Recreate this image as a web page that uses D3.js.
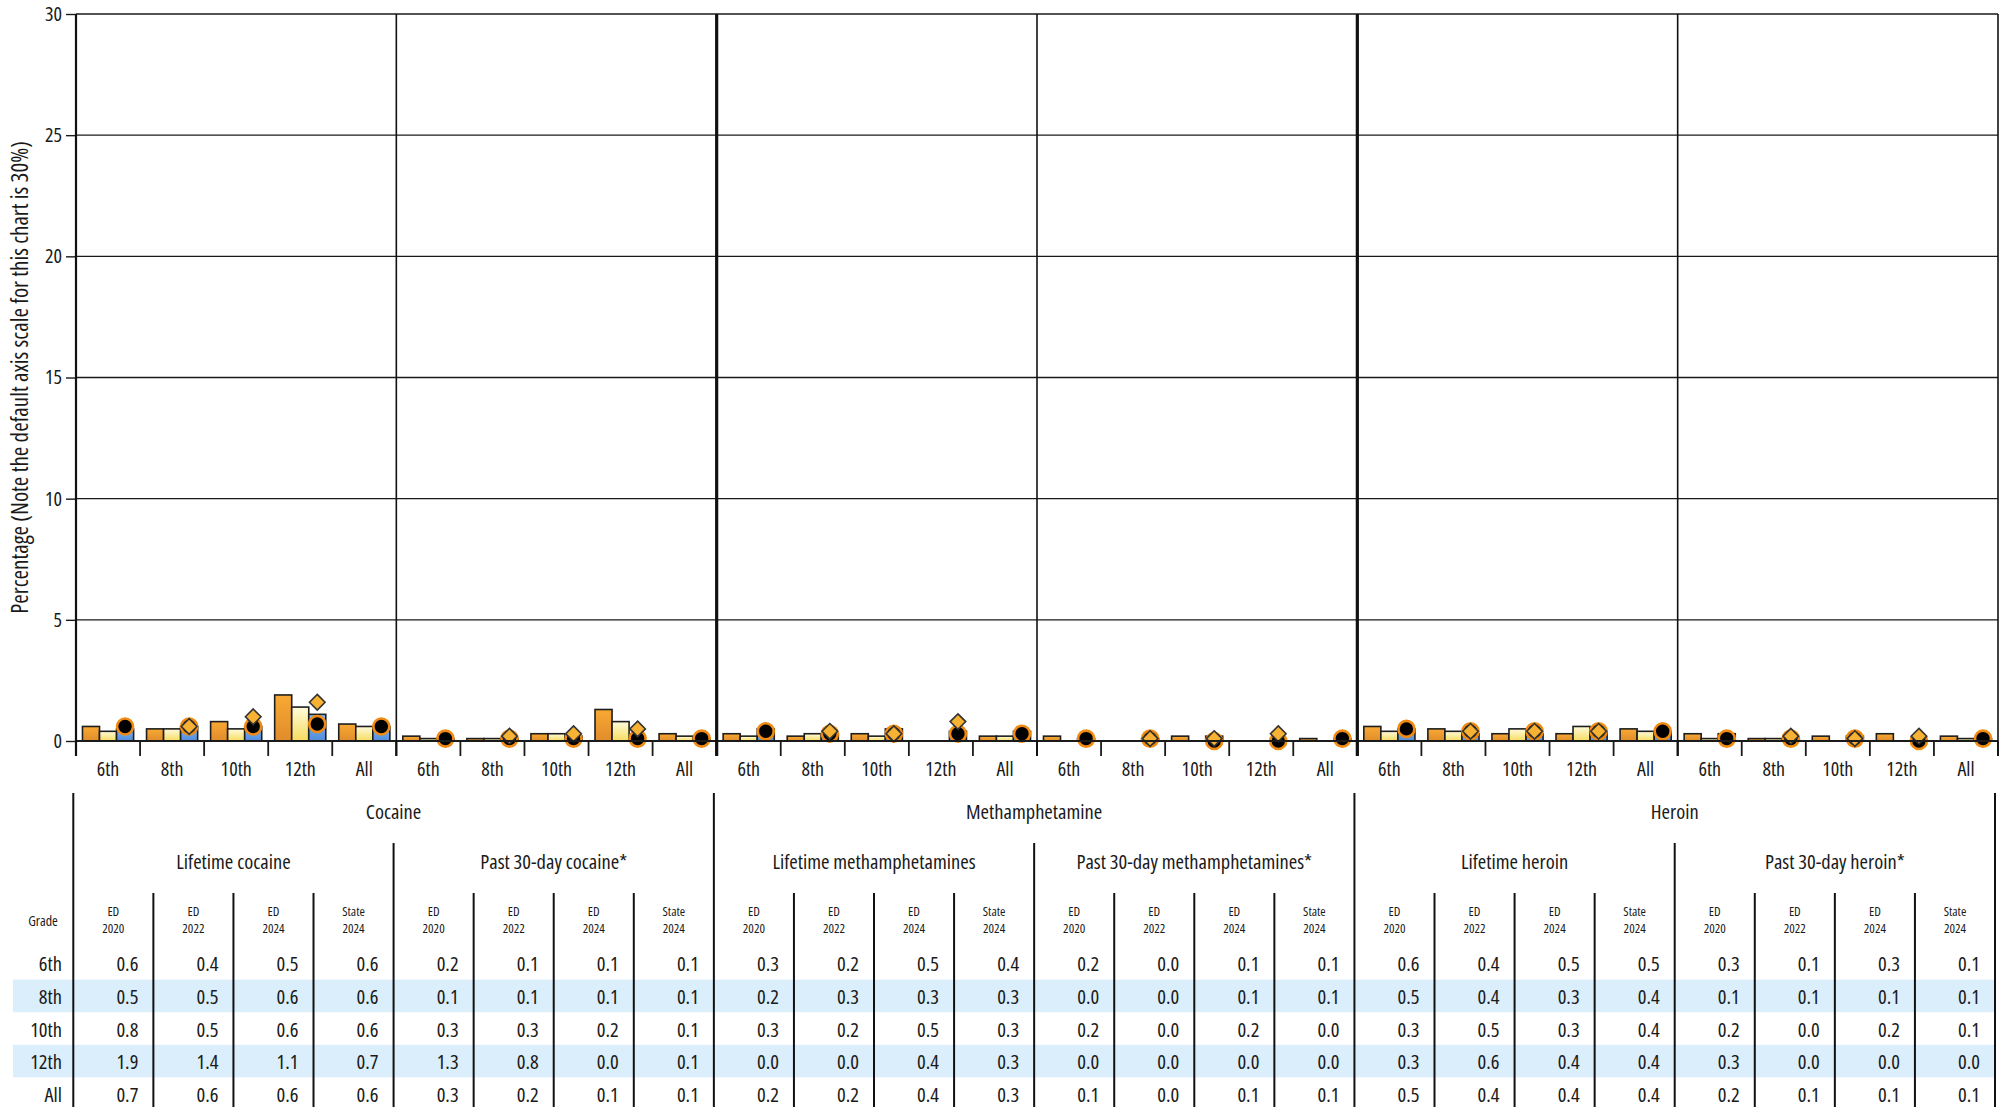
<!DOCTYPE html>
<html><head><meta charset="utf-8">
<script src="https://cdn.jsdelivr.net/npm/d3@7"></script>
<style>
body{margin:0;background:#fff;}
svg text{font-family:"Open Sans",sans-serif;font-stretch:75%;fill:#1a1a1a;}
</style></head><body>
<svg id="c" width="1999" height="1107"></svg>
<script>
// ---------------- DATA ----------------
const grades = ["6th","8th","10th","12th","All"];
const groupNames = ["Cocaine","Methamphetamine","Heroin"];
const panelNames = ["Lifetime cocaine","Past 30-day cocaine*","Lifetime methamphetamines","Past 30-day methamphetamines*","Lifetime heroin","Past 30-day heroin*"];
const seriesNames = ["ED 2020","ED 2022","ED 2024","State 2024"];
const yTicks = [0,5,10,15,20,25,30];

// values per grade: [ED 2020, ED 2022, ED 2024, State 2024]
const lifetimeCocaine = [[0.6,0.4,0.5,0.6],[0.5,0.5,0.6,0.6],[0.8,0.5,0.6,0.6],[1.9,1.4,1.1,0.7],[0.7,0.6,0.6,0.6]];
const past30Cocaine   = [[0.2,0.1,0.1,0.1],[0.1,0.1,0.1,0.1],[0.3,0.3,0.2,0.1],[1.3,0.8,0.0,0.1],[0.3,0.2,0.1,0.1]];
const lifetimeMeth    = [[0.3,0.2,0.5,0.4],[0.2,0.3,0.3,0.3],[0.3,0.2,0.5,0.3],[0.0,0.0,0.4,0.3],[0.2,0.2,0.4,0.3]];
const past30Meth      = [[0.2,0.0,0.1,0.1],[0.0,0.0,0.1,0.1],[0.2,0.0,0.2,0.0],[0.0,0.0,0.0,0.0],[0.1,0.0,0.1,0.1]];
const lifetimeHeroin  = [[0.6,0.4,0.5,0.5],[0.5,0.4,0.3,0.4],[0.3,0.5,0.3,0.4],[0.3,0.6,0.4,0.4],[0.5,0.4,0.4,0.4]];
const past30Heroin    = [[0.3,0.1,0.3,0.1],[0.1,0.1,0.1,0.1],[0.2,0.0,0.2,0.1],[0.3,0.0,0.0,0.0],[0.2,0.1,0.1,0.1]];

// diamond markers (8th, 10th, 12th comparison values)
const lifetimeCocaineDiamond = [null,0.6,1.0,1.6,null];
const past30CocaineDiamond   = [null,0.2,0.3,0.5,null];
const lifetimeMethDiamond    = [null,0.4,0.3,0.8,null];
const past30MethDiamond      = [null,0.1,0.1,0.3,null];
const lifetimeHeroinDiamond  = [null,0.4,0.4,0.4,null];
const past30HeroinDiamond    = [null,0.2,0.1,0.2,null];

const panelValues = [lifetimeCocaine,past30Cocaine,lifetimeMeth,past30Meth,lifetimeHeroin,past30Heroin];
const panelDiamonds = [lifetimeCocaineDiamond,past30CocaineDiamond,lifetimeMethDiamond,past30MethDiamond,lifetimeHeroinDiamond,past30HeroinDiamond];

// ---------------- DRAW ----------------
const svg = d3.select("#c");
const defs = svg.append("defs");
function grad(id, c1, c2){
  const g = defs.append("linearGradient").attr("id",id).attr("x1",0).attr("y1",0).attr("x2",0).attr("y2",1);
  g.append("stop").attr("offset","0%").attr("stop-color",c1);
  g.append("stop").attr("offset","100%").attr("stop-color",c2);
}
grad("gOrange","#f8a933","#e08c2c");
grad("gYellow","#fffbdc","#f6dc5e");
grad("gBlue","#86b6ee","#4f8ddd");
const fills = ["url(#gOrange)","url(#gYellow)","url(#gBlue)"];

const X0 = 76, X1 = 1998, YTOP = 14, YBASE = 741;
const pw = (X1 - X0) / 6;
const y = d3.scaleLinear().domain([0,30]).range([YBASE, YTOP]);

// gridlines
svg.append("g").selectAll("line").data(yTicks.filter(t=>t>0)).join("line")
  .attr("x1",X0).attr("x2",X1).attr("y1",d=>y(d)).attr("y2",d=>y(d))
  .attr("stroke","#1a1a1a").attr("stroke-width",1.4);

// y axis
const yAxis = svg.append("g").attr("transform",`translate(${X0},0)`)
  .call(d3.axisLeft(y).tickValues(yTicks).tickSize(10).tickPadding(4));
yAxis.select(".domain").remove();
yAxis.selectAll(".tick line").attr("stroke","#1a1a1a").attr("stroke-width",1.4);
yAxis.selectAll(".tick text").style("font-size","20px").attr("fill","#1a1a1a");

svg.append("text")
  .attr("transform",`translate(22,${(YTOP+YBASE)/2}) rotate(-90)`)
  .attr("text-anchor","middle").attr("dominant-baseline","middle")
  .style("font-size","23px")
  .text("Percentage (Note the default axis scale for this chart is 30%)");

// panels
panelValues.forEach((vals,p)=>{
  const left = X0 + p*pw, right = left + pw;
  const xb = d3.scaleBand().domain(grades).range([left,right]);
  const xi = d3.scaleBand().domain(seriesNames.slice(0,3)).range([0,xb.bandwidth()]).paddingOuter(0.38);
  const g = svg.append("g");
  grades.forEach((gr,gi)=>{
    const gg = g.append("g").attr("transform",`translate(${xb(gr)},0)`);
    gg.selectAll("rect").data(vals[gi].slice(0,3)).join("rect")
      .attr("x",(d,i)=>xi(seriesNames[i])).attr("width",xi.bandwidth())
      .attr("y",d=>y(d)).attr("height",d=>y(0)-y(d))
      .attr("fill",(d,i)=>fills[i]).attr("stroke","#1e1e1e").attr("stroke-width",1.6);
  });
  // circles (State 2024)
  g.append("g").selectAll("circle").data(grades).join("circle")
    .attr("cx",(d)=>xb(d)+xi("ED 2024")+xi.bandwidth()/2)
    .attr("cy",(d,gi)=>y(vals[gi][3]))
    .attr("r",8).attr("fill","#000").attr("stroke","#f08a10").attr("stroke-width",2.6);
  // diamonds
  const dd = panelDiamonds[p].map((v,gi)=>({v,gr:grades[gi]})).filter(d=>d.v!==null);
  g.append("g").selectAll("path").data(dd).join("path")
    .attr("transform",d=>`translate(${xb(d.gr)+xi("ED 2024")+xi.bandwidth()/2},${y(d.v)})`)
    .attr("d","M0,-7.8L7.8,0L0,7.8L-7.8,0Z")
    .attr("fill","#f7b233").attr("stroke","#333").attr("stroke-width",1.6);
  // x axis labels
  const xa = g.append("g").attr("transform",`translate(0,${YBASE})`)
    .call(d3.axisBottom(xb).tickSize(0).tickPadding(21));
  xa.select(".domain").remove();
  xa.selectAll(".tick text").style("font-size","20px").attr("fill","#1a1a1a");
  // boundary ticks
  const bounds = grades.map(d=>xb(d)).concat([right]);
  g.append("g").selectAll("line").data(bounds).join("line")
    .attr("x1",d=>d).attr("x2",d=>d).attr("y1",YBASE).attr("y2",YBASE+15)
    .attr("stroke","#1a1a1a").attr("stroke-width",1.8);
});

// baseline
svg.append("line").attr("x1",X0).attr("x2",X1).attr("y1",YBASE).attr("y2",YBASE)
  .attr("stroke","#1a1a1a").attr("stroke-width",2.2);
// vertical separators
d3.range(0,7).forEach(p=>{
  const xx = X0 + p*pw;
  svg.append("line").attr("x1",xx).attr("x2",xx).attr("y1",YTOP).attr("y2",YBASE+15)
    .attr("stroke","#111").attr("stroke-width",(p===2||p===4)?3.2:(p===0?2.2:1.6));
});

// ---------------- TABLE ----------------
const TX0 = 73.3, TX1 = 1995;
const tx = d3.scaleLinear().domain([0,24]).range([TX0,TX1]);
const rowScale = d3.scaleBand().domain(grades).range([947,1110]);
const t = svg.append("g");
// highlight rows
t.selectAll("rect.hl").data(["8th","12th"]).join("rect").attr("class","hl")
  .attr("x",13).attr("width",TX1-13).attr("y",d=>rowScale(d)).attr("height",rowScale.bandwidth())
  .attr("fill","#dbeefc");
// vertical lines
d3.range(0,25).forEach(c=>{
  const y1 = (c%8===0)?793:((c%4===0)?843:893);
  t.append("line").attr("x1",tx(c)).attr("x2",tx(c)).attr("y1",y1).attr("y2",1107)
    .attr("stroke","#111").attr("stroke-width",2);
});
// group headers
groupNames.forEach((n,i)=>{
  t.append("text").attr("x",tx(i*8+4)).attr("y",814).attr("text-anchor","middle")
    .attr("dominant-baseline","middle").style("font-size","20.5px").text(n);
});
panelNames.forEach((n,i)=>{
  t.append("text").attr("x",tx(i*4+2)).attr("y",864).attr("text-anchor","middle")
    .attr("dominant-baseline","middle").style("font-size","20.5px").text(n);
});
// column headers
d3.range(0,24).forEach(c=>{
  const parts = seriesNames[c%4].split(" ");
  t.append("text").attr("x",tx(c+0.5)).attr("y",911).attr("text-anchor","middle")
    .attr("dominant-baseline","central").style("font-size","13px").text(parts[0]);
  t.append("text").attr("x",tx(c+0.5)).attr("y",928).attr("text-anchor","middle")
    .attr("dominant-baseline","central").style("font-size","13px").text(parts[1]);
});
t.append("text").attr("x",43).attr("y",920).attr("text-anchor","middle")
  .attr("dominant-baseline","central").style("font-size","14px").text("Grade");
// rows
grades.forEach((gr,gi)=>{
  const cy = rowScale(gr)+rowScale.bandwidth()/2;
  t.append("text").attr("x",62).attr("y",cy).attr("text-anchor","end")
    .attr("dominant-baseline","central").style("font-size","20.5px").text(gr);
  panelValues.forEach((vals,p)=>{
    vals[gi].forEach((v,s)=>{
      t.append("text").attr("x",tx(p*4+s+1)-15).attr("y",cy).attr("text-anchor","end")
        .attr("dominant-baseline","central").style("font-size","20.5px").text(v.toFixed(1));
    });
  });
});
</script>
</body></html>
